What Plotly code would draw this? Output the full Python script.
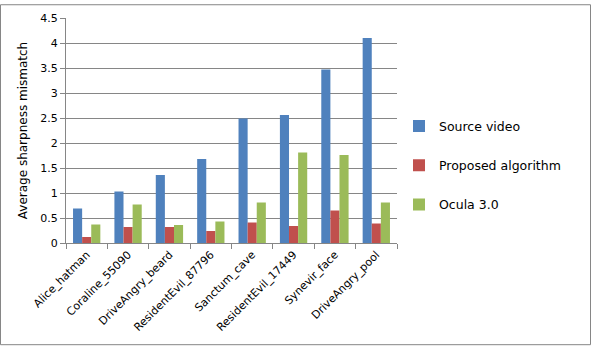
import plotly.graph_objects as go

categories = ["Alice_hatman", "Coraline_55090", "DriveAngry_beard", "ResidentEvil_87796",
              "Sanctum_cave", "ResidentEvil_17449", "Synevir_face", "DriveAngry_pool"]
source_video = [0.69, 1.03, 1.36, 1.68, 2.49, 2.56, 3.47, 4.10]
proposed = [0.12, 0.32, 0.32, 0.24, 0.41, 0.34, 0.65, 0.39]
ocula = [0.37, 0.77, 0.36, 0.43, 0.81, 1.81, 1.76, 0.81]

W, H = 592, 348
L, R, T, B = 66, 195, 14, 105
pw, ph = W - L - R, H - T - B

font = "DejaVu Sans, Verdana, sans-serif"

fig = go.Figure()
for name, vals, col in [("Source video", source_video, "#4F81BD"),
                        ("Proposed algorithm", proposed, "#C0504D"),
                        ("Ocula 3.0", ocula, "#9BBB59")]:
    fig.add_trace(go.Bar(x=categories, y=vals, name=name, marker_color=col,
                         marker_line_width=0, legendgroup=name))

fig.update_layout(
    width=W, height=H,
    margin=dict(l=L, r=R, t=T, b=B),
    paper_bgcolor="white", plot_bgcolor="white",
    barmode="group", bargap=0.34, bargroupgap=0,
    font=dict(family=font, size=11, color="black"),
    legend=dict(x=(399 - L) / pw, y=(H - 109 - B) / ph, xanchor="left", yanchor="top",
                font=dict(size=12.5), tracegroupgap=20, itemwidth=30,
                bgcolor="rgba(0,0,0,0)"),
    xaxis=dict(tickangle=-45, showline=True, linecolor="#868686", linewidth=1,
               ticks="outside", tickson="boundaries", ticklen=5, tickcolor="#868686",
               showgrid=False, tickfont=dict(size=11)),
    yaxis=dict(range=[0, 4.5], dtick=0.5, showline=True, linecolor="#868686", linewidth=1,
               ticks="outside", ticklen=5, tickcolor="#868686",
               showgrid=True, gridcolor="#868686", gridwidth=1, zeroline=False,
               tickfont=dict(size=11),
               title=dict(text="Average sharpness mismatch", font=dict(size=12), standoff=10)),
    shapes=[dict(type="rect", xref="paper", yref="paper",
                 x0=-(L - 0.5) / pw, x1=1 + (R - 1.5) / pw,
                 y0=-(B - 1.5) / ph, y1=1 + (T - 0.5) / ph,
                 line=dict(color="#868686", width=1))],
)

fig.write_html("out.html")
